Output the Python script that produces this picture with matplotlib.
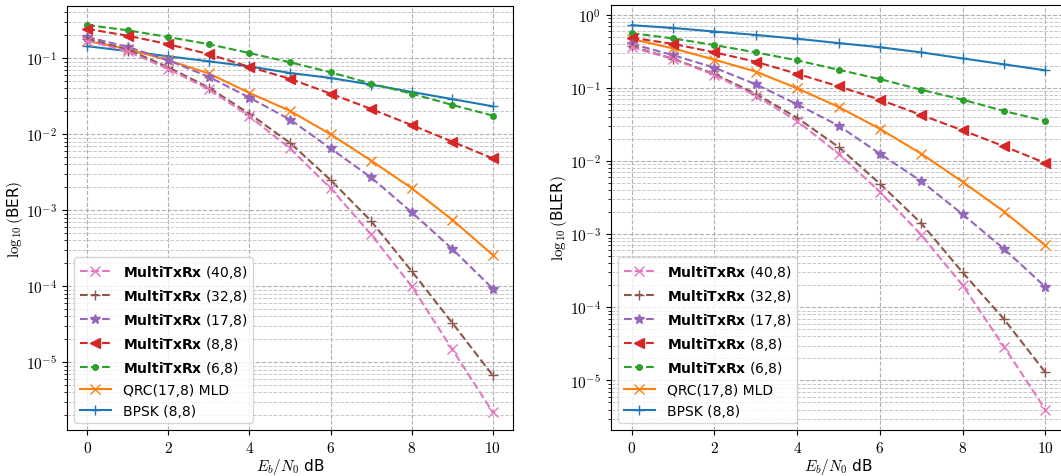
import numpy as np
import matplotlib.pyplot as plt
from matplotlib.ticker import FuncFormatter, NullFormatter, LogLocator
from matplotlib.font_manager import FontProperties

plt.rcParams['mathtext.fontset'] = 'cm'
plt.rcParams['font.family'] = ['DejaVu Sans']

snr = np.arange(0, 11)

names = ['BPSK (8,8)', 'QRC(17,8) MLD', r'$\bf{MultiTxRx}$ (6,8)', r'$\bf{MultiTxRx}$ (8,8)',
         r'$\bf{MultiTxRx}$ (17,8)', r'$\bf{MultiTxRx}$ (32,8)', r'$\bf{MultiTxRx}$ (40,8)']

ber_bpsk = [0.144, 0.124, 0.106, 0.091, 0.078, 0.064, 0.055, 0.045, 0.036, 0.029, 0.0233]
ber_qrc = [0.169, 0.132, 0.094, 0.063, 0.0349, 0.0203, 0.0100, 0.0045, 0.00195, 0.00075, 0.000258]
ber_6 = [0.274, 0.233, 0.19, 0.153, 0.117, 0.0885, 0.0654, 0.0464, 0.0342, 0.0243, 0.0176]
ber_8 = [0.243, 0.198, 0.153, 0.113, 0.0769, 0.0536, 0.0342, 0.0215, 0.0132, 0.0080, 0.0048]
ber_17 = [0.19, 0.141, 0.094, 0.0568, 0.0303, 0.0156, 0.0065, 0.0027, 0.00094, 0.00031, 9.3e-5]
ber_32 = [0.18, 0.13, 0.076, 0.041, 0.0186, 0.0077, 0.0025, 0.00072, 0.000158, 3.3e-5, 6.7e-6]
ber_40 = [0.17, 0.123, 0.072, 0.039, 0.0172, 0.0065, 0.00195, 0.00048, 0.0001, 1.48e-5, 2.2e-6]

bler_bpsk = [0.72, 0.66, 0.59, 0.53, 0.47, 0.41, 0.36, 0.306, 0.253, 0.21, 0.174]
bler_qrc = [0.466, 0.347, 0.243, 0.167, 0.0988, 0.055, 0.0275, 0.0126, 0.0052, 0.00204, 0.0007]
bler_6 = [0.56, 0.475, 0.385, 0.306, 0.238, 0.177, 0.132, 0.0945, 0.069, 0.0483, 0.0353]
bler_8 = [0.485, 0.40, 0.306, 0.228, 0.156, 0.105, 0.069, 0.0426, 0.0263, 0.0159, 0.0094]
bler_17 = [0.40, 0.28, 0.189, 0.112, 0.0597, 0.0305, 0.0126, 0.0053, 0.00187, 0.00063, 0.00019]
bler_32 = [0.37, 0.25, 0.155, 0.083, 0.039, 0.0156, 0.0049, 0.00141, 0.0003, 6.9e-5, 1.29e-5]
bler_40 = [0.36, 0.248, 0.15, 0.078, 0.0353, 0.0126, 0.0038, 0.00098, 0.0002, 2.9e-5, 4e-6]

styles = [('C0', '+', '-'), ('C1', 'x', '-'), ('C2', '.', '--'), ('C3', '<', '--'),
          ('C4', '*', '--'), ('C5', '+', '--'), ('C6', 'x', '--')]

W, H = 1061, 477
fig = plt.figure(figsize=(W / 100, H / 100), dpi=100)
ax1 = fig.add_axes([67 / W, 1 - 431 / H, (513 - 67) / W, (431 - 7) / H])
ax2 = fig.add_axes([611 / W, 1 - 431 / H, (1066 - 611) / W, (431 - 6) / H])

panels = [
    (ax1, [ber_bpsk, ber_qrc, ber_6, ber_8, ber_17, ber_32, ber_40], 'BER', (1.28e-6, 0.487)),
    (ax2, [bler_bpsk, bler_qrc, bler_6, bler_8, bler_17, bler_32, bler_40], 'BLER', (2.1e-6, 1.36)),
]

leg_font = FontProperties(family='DejaVu Sans', size=10, math_fontfamily='dejavusans')

for ax, series, metric, ylim in panels:
    for vals, name, (c, m, ls) in zip(series, names, styles):
        ms = 8 if m == '.' else 7
        ax.semilogy(snr, vals, color=c, marker=m, ls=ls, label=name, ms=ms, lw=1.5)
    ax.set_xlim(-0.5, 10.5)
    ax.set_ylim(*ylim)
    ax.set_xticks(range(0, 11, 2))
    ax.xaxis.set_major_formatter(FuncFormatter(lambda v, p: r'$%d$' % v))
    ax.yaxis.set_major_locator(LogLocator(base=10))
    ax.yaxis.set_major_formatter(FuncFormatter(lambda v, p: r'$10^{%d}$' % round(np.log10(v))))
    ax.yaxis.set_minor_formatter(NullFormatter())
    ax.tick_params(labelsize=11)
    ax.grid(True, which='major', ls='--', color='#b0b0b0', lw=0.8)
    ax.grid(True, which='minor', ls='--', color='#c8c8c8', lw=0.7)
    ax.set_xlabel(r'$E_b/N_0$ dB', fontsize=11, labelpad=1)
    ax.set_ylabel(r'$\log_{10}($' + metric + r'$)$', fontsize=11, labelpad=1)
    h, l = ax.get_legend_handles_labels()
    ax.legend(h[::-1], l[::-1], loc='lower left', prop=leg_font, handlelength=2.3)

fig.savefig('out.png', dpi=100)
